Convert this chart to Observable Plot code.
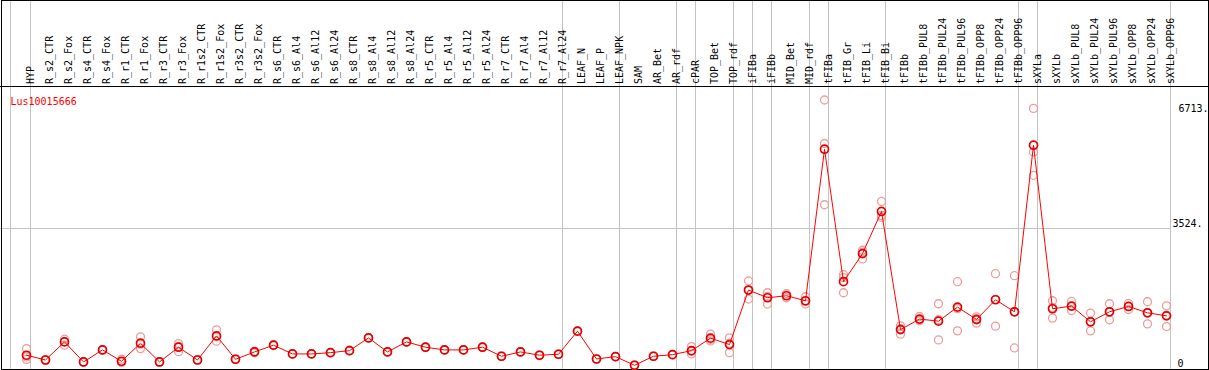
<!DOCTYPE html>
<html>
<head>
<meta charset="utf-8">
<script src="https://cdn.jsdelivr.net/npm/d3@7"></script>
<script src="https://cdn.jsdelivr.net/npm/@observablehq/plot@0.6"></script>
<style>
  html, body { margin: 0; padding: 0; background: white; }
  #chart svg { display: block; }
</style>
</head>
<body>
<div id="chart"></div>
<script>
const gene = "Lus10015666";

const categories = [
  "HYP",
  "R_s2_CTR","R_s2_Fox","R_s4_CTR","R_s4_Fox","R_r1_CTR","R_r1_Fox","R_r3_CTR","R_r3_Fox",
  "R_r1s2_CTR","R_r1s2_Fox","R_r3s2_CTR","R_r3s2_Fox",
  "R_s6_CTR","R_s6_Al4","R_s6_Al12","R_s6_Al24","R_s8_CTR","R_s8_Al4","R_s8_Al12","R_s8_Al24",
  "R_r5_CTR","R_r5_Al4","R_r5_Al12","R_r5_Al24","R_r7_CTR","R_r7_Al4","R_r7_Al12","R_r7_Al24",
  "LEAF_N","LEAF_P","LEAF_NPK",
  "SAM","AR_Bet","AR_rdf",
  "cPAR",
  "TOP_Bet","TOP_rdf",
  "iFIBa",
  "iFIBb",
  "MID_Bet","MID_rdf",
  "tFIBa",
  "tFIB_Gr","tFIB_Li","tFIB_Bi",
  "tFIBb","tFIBb_PUL8","tFIBb_PUL24","tFIBb_PUL96","tFIBb_OPP8","tFIBb_OPP24","tFIBb_OPP96",
  "sXYLa",
  "sXYLb","sXYLb_PUL8","sXYLb_PUL24","sXYLb_PUL96","sXYLb_OPP8","sXYLb_OPP24","sXYLb_OPP96"
];

// first category of each tissue group (grey separators)
const groupStarts = ["R_s2_CTR","LEAF_N","SAM","cPAR","TOP_Bet","iFIBa","iFIBb","MID_Bet","tFIBa","tFIB_Gr","tFIBb","sXYLa","sXYLb"];

const means = [
  379,
  261,710,212,511,229,677,212,578,
  261,859,279,461,
  628,411,411,443,493,809,461,710,
  578,511,511,578,354,461,379,403,
  976,286,344,
  130,354,393,
  493,
  802,643,
  1997,
  1806,
  1855,1731,
  5492,
  2204,2901,3947,
  1016,1275,1225,1574,1265,1756,1457,
  5591,
  1532,1599,1208,1457,1589,1432,1357
];

const rep1 = [
  543,
  250,777,205,520,279,834,205,667,
  255,1009,270,440,
  620,405,404,436,485,800,452,700,
  570,503,505,570,347,453,372,396,
  968,279,337,
  124,347,386,
  593,
  902,809,
  2222,
  1930,
  1905,1830,
  6713,
  2378,2984,4196,
  1108,1340,1656,2204,1332,2403,2353,
  6505,
  1731,1713,1425,1656,1664,1706,1606
];

const rep2 = [
  336,
  272,628,220,500,212,543,222,468,
  268,727,288,480,
  640,418,420,450,502,818,470,720,
  586,519,518,587,361,469,386,410,
  985,293,351,
  137,361,400,
  411,
  735,443,
  1773,
  1649,
  1806,1649,
  5633,
  2304,2769,3848,
  902,1233,760,984,1176,1101,560,
  5424,
  1300,1489,984,1258,1514,1158,1091
];

const rep3 = [
  274,
  null,720,null,null,200,654,null,599,
  null,841,null,null,
  null,null,null,null,null,null,null,null,
  null,null,null,null,null,null,null,null,
  null,null,null,
  null,null,null,
  475,
  770,677,
  1996,
  1840,
  null,1714,
  4114,
  1930,2934,3805,
  1038,1252,1259,1534,1287,1764,1458,
  4844,
  1565,1595,1215,1457,1589,1432,1374
];

const yMax = 7048;
const tickValues = [0, 3524, 6713];
const tickLabels = ["0", "3524.", "6713."];

const meanData = categories.map((c, i) => ({cat: c, value: means[i]}));
const repData = [];
categories.forEach((c, i) => {
  [rep1[i], rep2[i], rep3[i]].forEach(v => { if (v != null) repData.push({cat: c, value: v}); });
});

const grid = "#c4c4c4";
const font = "DejaVu Sans Mono";

const chart = Plot.plot({
  width: 1209,
  height: 370,
  marginTop: 0, marginBottom: 0, marginLeft: 0, marginRight: 0,
  style: {fontFamily: font, fontSize: "10px", background: "white", color: "black"},
  x: {type: "point", domain: categories, range: [26, 1166], padding: 0, align: 0.5, axis: null},
  y: {domain: [0, yMax], range: [370, 86], axis: null},
  marks: [
    // grey separators between tissue groups
    Plot.ruleX([categories[0]], {x: d => d, stroke: grid, dx: -16}),
    Plot.ruleX(groupStarts, {x: d => d, stroke: grid, dx: -15}),
    Plot.ruleX([categories[categories.length - 1]], {x: d => d, stroke: grid, dx: 4}),
    // mid grid line
    Plot.ruleY([tickValues[1]], {y: d => d, stroke: grid, insetRight: 39}),
    // top of plotting area
    Plot.ruleY([yMax], {y: d => d, stroke: "black"}),
    Plot.frame({stroke: "black", insetRight: 1, insetBottom: 1, insetLeft: 1}),
    // category labels
    Plot.text(categories, {
      x: d => d, text: d => d, rotate: -90, textAnchor: "start",
      frameAnchor: "top", dy: 83.5, fill: "black", fontFamily: font, fontSize: 10
    }),
    // replicates
    Plot.dot(repData, {x: "cat", y: "value", r: 4, stroke: "#f09a9a", strokeWidth: 1.3, fill: "none"}),
    // mean line
    Plot.line(meanData, {x: "cat", y: "value", stroke: "#ff0000", strokeWidth: 1}),
    Plot.dot(meanData, {x: "cat", y: "value", r: 4, stroke: "#e00000", strokeWidth: 1.7, fill: "none"}),
    // y tick labels on the right
    Plot.text([tickValues[0]], {y: d => d, text: () => tickLabels[0], frameAnchor: "right", textAnchor: "start", dx: -32, dy: -6.5, fill: "black"}),
    Plot.text([tickValues[1]], {y: d => d, text: () => tickLabels[1], frameAnchor: "right", textAnchor: "start", dx: -37, dy: -5, fill: "black"}),
    Plot.text([tickValues[2]], {y: d => d, text: () => tickLabels[2], frameAnchor: "right", textAnchor: "start", dx: -31, dy: 9, fill: "black"}),
    // gene name
    Plot.text([gene], {text: d => d, frameAnchor: "top-left", textAnchor: "start", dx: 10, dy: 97, fill: "#ff0000"})
  ]
});

document.getElementById("chart").appendChild(chart);
</script>
</body>
</html>
